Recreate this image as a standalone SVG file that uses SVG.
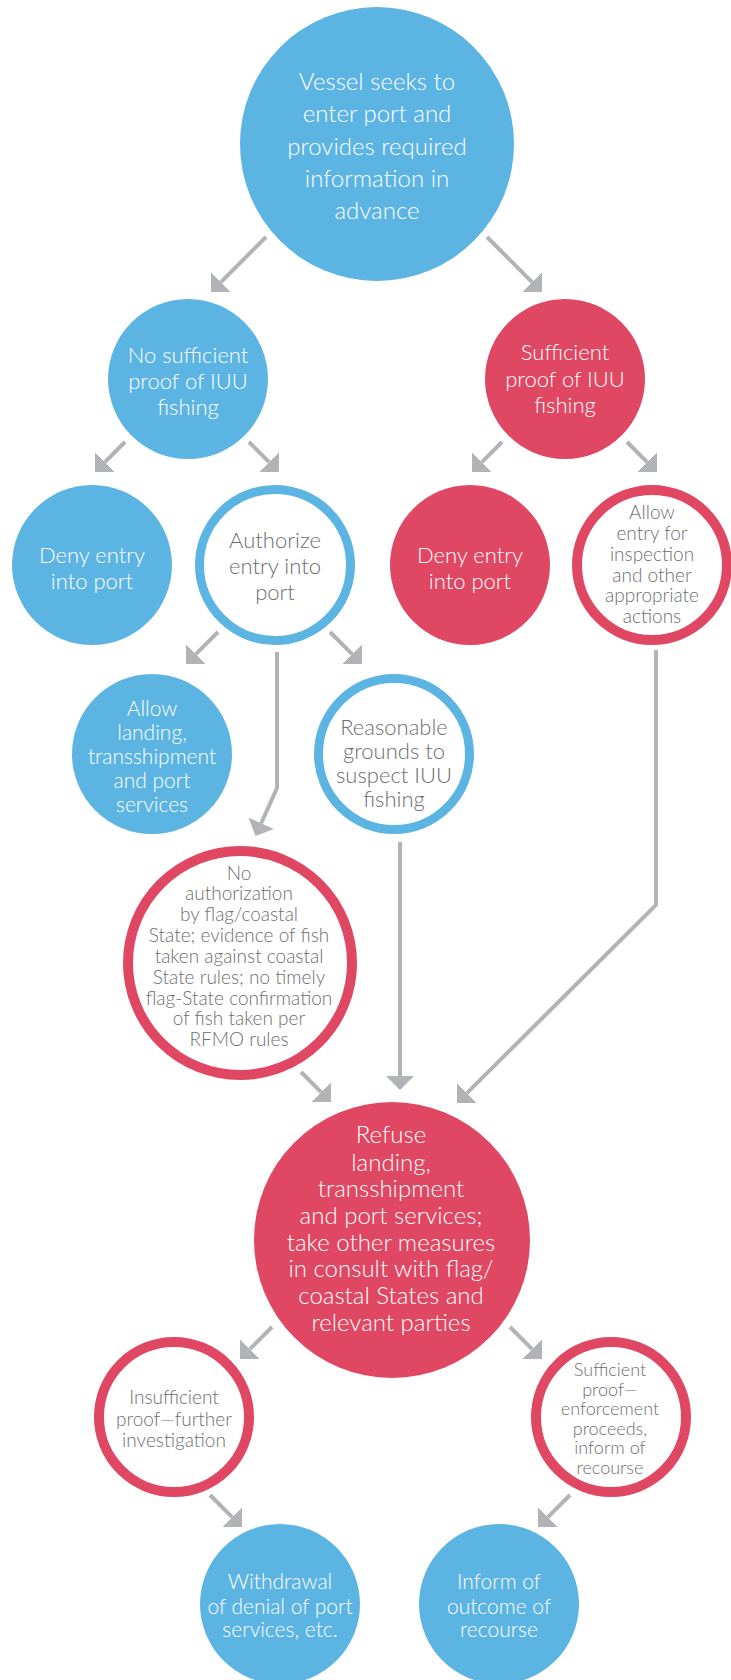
<svg xmlns="http://www.w3.org/2000/svg" width="731" height="1680" viewBox="0 0 731 1680">
<style>
  .bf{fill:#5cb4e3}
  .rf{fill:#df4763}
  .bo{fill:#fff;stroke:#5cb4e3;stroke-width:9}
  .ro{fill:#fff;stroke:#df4763;stroke-width:10}
  text{font-family:Lato,"Open Sans","Liberation Sans",sans-serif;font-weight:300;text-anchor:middle}
  .w{fill:#fff}
  .g{fill:#6d6e71}
  .c{fill:none;stroke:#b2b3b6;stroke-width:4;marker-end:url(#ah)}
</style>
<defs>
  <marker id="ah" markerUnits="userSpaceOnUse" markerWidth="15" markerHeight="29" refX="0" refY="14" orient="auto" viewBox="0 0 15 28">
    <path d="M0,0 L14,14 L0,28 Z" fill="#b2b3b6"/>
  </marker>
</defs>
<g id="connectors">
  <path class="c" d="M266,237 L220.9,282.1"/>
  <path class="c" d="M487,237 L532.1,282.1"/>
  <path class="c" d="M125,442 L104.9,462.1"/>
  <path class="c" d="M249,442 L269.1,462.1"/>
  <path class="c" d="M502,442 L481.9,462.1"/>
  <path class="c" d="M627,442 L647.1,462.1"/>
  <path class="c" d="M218,632 L195.9,654.1"/>
  <path class="c" d="M330,632 L352.1,654.1"/>
  <path class="c" d="M277,652 V788 L261.2,823.2"/>
  <path class="c" d="M400,842 V1076"/>
  <path class="c" d="M656,650 V905 L466.9,1093.1"/>
  <path class="c" d="M301,1072 L321.1,1092.1"/>
  <path class="c" d="M272,1327 L249.9,1349.1"/>
  <path class="c" d="M510,1327 L532.1,1349.1"/>
  <path class="c" d="M210,1495 L232.1,1517.1"/>
  <path class="c" d="M570,1495 L547.9,1517.1"/>
</g>
<g id="n1">
  <circle class="bf" cx="377" cy="144" r="137"/>
  <text class="w" font-size="24"><tspan x="377" y="90">Vessel seeks to</tspan><tspan x="377" y="122.3">enter port and</tspan><tspan x="377" y="154.7">provides required</tspan><tspan x="377" y="187">information in</tspan><tspan x="377" y="219.3">advance</tspan></text>
</g>
<g id="n2">
  <circle class="bf" cx="188" cy="379" r="80"/>
  <text class="w" font-size="22"><tspan x="188" y="362.5">No sufficient</tspan><tspan x="188" y="388.5">proof of IUU</tspan><tspan x="188" y="414.5">fishing</tspan></text>
</g>
<g id="n3">
  <circle class="rf" cx="565" cy="379" r="80"/>
  <text class="w" font-size="22"><tspan x="565" y="360">Sufficient</tspan><tspan x="565" y="386.5">proof of IUU</tspan><tspan x="565" y="413">fishing</tspan></text>
</g>
<g id="n4">
  <circle class="bf" cx="92" cy="565" r="80"/>
  <text class="w" font-size="22"><tspan x="92" y="562.5">Deny entry</tspan><tspan x="92" y="588.5">into port</tspan></text>
</g>
<g id="n5">
  <circle class="bo" cx="275" cy="565" r="75.5"/>
  <text class="g" font-size="22"><tspan x="275" y="548.3">Authorize</tspan><tspan x="275" y="574.3">entry into</tspan><tspan x="275" y="600">port</tspan></text>
</g>
<g id="n6">
  <circle class="rf" cx="470" cy="565" r="80"/>
  <text class="w" font-size="22"><tspan x="470" y="562.5">Deny entry</tspan><tspan x="470" y="588.5">into port</tspan></text>
</g>
<g id="n7">
  <circle class="ro" cx="652" cy="565" r="75"/>
  <text class="g" font-size="19"><tspan x="652" y="519">Allow</tspan><tspan x="652" y="540">entry for</tspan><tspan x="652" y="561">inspection</tspan><tspan x="652" y="581.5">and other</tspan><tspan x="652" y="602">appropriate</tspan><tspan x="652" y="623">actions</tspan></text>
</g>
<g id="n8">
  <circle class="bf" cx="152" cy="754" r="80"/>
  <text class="w" font-size="21"><tspan x="152" y="716">Allow</tspan><tspan x="152" y="740">landing,</tspan><tspan x="152" y="764">transshipment</tspan><tspan x="152" y="788">and port</tspan><tspan x="152" y="812">services</tspan></text>
</g>
<g id="n9">
  <circle class="bo" cx="394" cy="754" r="75.5"/>
  <text class="g" font-size="22"><tspan x="394" y="735">Reasonable</tspan><tspan x="394" y="759">grounds to</tspan><tspan x="394" y="783">suspect IUU</tspan><tspan x="394" y="807">fishing</tspan></text>
</g>
<g id="n10">
  <circle class="ro" cx="240" cy="963" r="112" stroke-width="12"/>
  <text class="g" font-size="19"><tspan x="239" y="879.5">No</tspan><tspan x="239" y="900">authorization</tspan><tspan x="239" y="921">by flag/coastal</tspan><tspan x="239" y="942">State; evidence of fish</tspan><tspan x="239" y="962.5">taken against coastal</tspan><tspan x="239" y="983.5">State rules; no timely</tspan><tspan x="239" y="1004.5">flag-State confirmation</tspan><tspan x="239" y="1025">of fish taken per</tspan><tspan x="239" y="1046">RFMO rules</tspan></text>
</g>
<g id="n11">
  <circle class="rf" cx="392" cy="1240" r="138"/>
  <text class="w" font-size="24"><tspan x="391" y="1143">Refuse</tspan><tspan x="391" y="1170.5">landing,</tspan><tspan x="391" y="1197">transshipment</tspan><tspan x="391" y="1224">and port services;</tspan><tspan x="391" y="1251">take other measures</tspan><tspan x="391" y="1277">in consult with flag/</tspan><tspan x="391" y="1304">coastal States and</tspan><tspan x="391" y="1330.5">relevant parties</tspan></text>
</g>
<g id="n12">
  <circle class="ro" cx="174" cy="1417" r="75"/>
  <text class="g" font-size="19"><tspan x="174" y="1404">Insufficient</tspan><tspan x="174" y="1425.5">proof—further</tspan><tspan x="174" y="1446.5">investigation</tspan></text>
</g>
<g id="n13">
  <circle class="ro" cx="611" cy="1417" r="75"/>
  <text class="g" font-size="18"><tspan x="610" y="1376">Sufficient</tspan><tspan x="610" y="1395.6">proof—</tspan><tspan x="610" y="1415.2">enforcement</tspan><tspan x="610" y="1434.8">proceeds,</tspan><tspan x="610" y="1454.4">inform of</tspan><tspan x="610" y="1474">recourse</tspan></text>
</g>
<g id="n14">
  <circle class="bf" cx="280" cy="1604" r="80"/>
  <text class="w" font-size="21"><tspan x="280" y="1589">Withdrawal</tspan><tspan x="280" y="1613.5">of denial of port</tspan><tspan x="280" y="1637">services, etc.</tspan></text>
</g>
<g id="n15">
  <circle class="bf" cx="499" cy="1604" r="80"/>
  <text class="w" font-size="21"><tspan x="499" y="1589">Inform of</tspan><tspan x="499" y="1613.5">outcome of</tspan><tspan x="499" y="1637">recourse</tspan></text>
</g>
</svg>
